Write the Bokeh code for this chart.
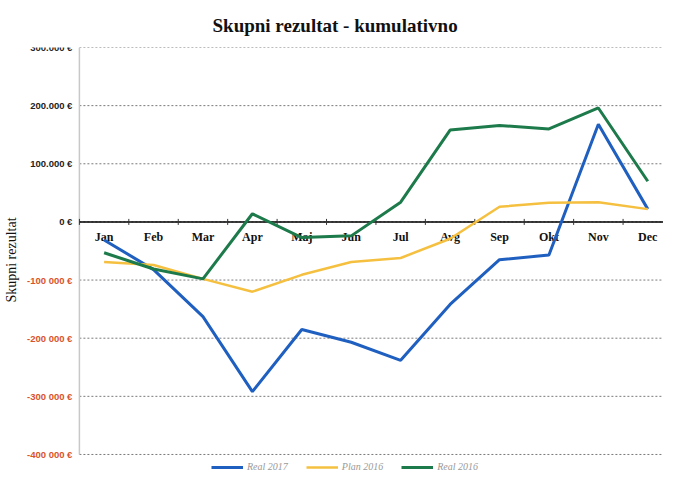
from bokeh.plotting import figure
from bokeh.models import ColumnDataSource, Range1d, Legend, LegendItem, FixedTicker
from bokeh.core.properties import value
from bokeh.embed import file_html
from bokeh.resources import INLINE

# ---- data (EUR) ----
months = ["Jan", "Feb", "Mar", "Apr", "Maj", "Jun", "Jul", "Avg", "Sep", "Okt", "Nov", "Dec"]
real_2017 = [-31000, -82000, -163000, -292000, -185000, -207000, -238000, -142000, -65000, -57000, 168000, 22000]
plan_2016 = [-69000, -74000, -98000, -120000, -91000, -69000, -62000, -29000, 26000, 33000, 34000, 22000]
real_2016 = [-53000, -81000, -98000, 14000, -27000, -24000, 34000, 158000, 166000, 160000, 196000, 70000]

y_ticks = [300000, 200000, 100000, 0, -100000, -200000, -300000, -400000]
y_tick_labels = ["300.000 €", "200.000 €", "100.000 €", "0 €",
                 "-100 000 €", "-200 000 €", "-300 000 €", "-400 000 €"]

series_names = ["Real 2017", "Plan 2016", "Real 2016"]
series_colors = ["#1f5fc0", "#f5c040", "#1d7a4a"]

# month positions on a numeric x scale (one unit per month)
xpos = list(range(len(months)))
x_axis_pos = xpos[0] - 0.5          # left edge of the first month = y-axis position
X_START, X_END = -1.631, 11.318     # visible x range (leaves room for tick labels on the left)

src = ColumnDataSource(dict(x=xpos, month=months, r17=real_2017, plan=plan_2016, r16=real_2016,
                            zero=[0] * len(months), bnd=[v - 0.5 for v in xpos]))

p = figure(x_range=Range1d(X_START, X_END), y_range=Range1d(-431000, 300000),
           width=663, height=472, output_backend="svg", toolbar_location=None,
           min_border_left=22, min_border_right=0, min_border_top=45, min_border_bottom=0)
p.outline_line_color = None
p.background_fill_color = "white"

# title
p.title.text = "Skupni rezultat - kumulativno"
p.title.text_font = "Liberation Serif"
p.title.text_font_size = "19px"
p.title.text_font_style = "bold"
p.title.text_color = "#111111"
p.title.align = "left"
p.title.offset = 189
p.title.standoff = 24

p.xaxis.visible = False
p.xgrid.visible = False
p.ygrid.visible = False

# y axis used only for its title
p.yaxis.ticker = FixedTicker(ticks=[])
p.yaxis.axis_line_color = None
p.yaxis.major_tick_line_color = None
p.yaxis.minor_tick_line_color = None
p.yaxis.axis_label = "Skupni rezultat"
p.yaxis.axis_label_text_font = "Liberation Serif"
p.yaxis.axis_label_text_font_size = "14px"
p.yaxis.axis_label_text_font_style = "normal"
p.yaxis.axis_label_text_color = "#111111"
p.yaxis.axis_label_standoff = 5

# grid lines (dashed) from the y-axis to the right edge
grid_src = ColumnDataSource(dict(x0=[x_axis_pos] * len(y_ticks), x1=[X_END] * len(y_ticks),
                                 y=y_ticks, t=y_tick_labels,
                                 c=["#222222" if v >= 0 else "#d9542b" for v in y_ticks]))
p.segment(x0="x0", y0="y", x1="x1", y1="y", source=grid_src,
          line_color="#7a7a7a", line_dash="2 2", line_width=1)

# y-axis line
p.segment(x0=[x_axis_pos], y0=[y_ticks[-1]], x1=[x_axis_pos], y1=[y_ticks[0]],
          line_color="#c8c8c8", line_width=1.5)

# y tick labels (positive dark, negative red)
p.text(x="x0", y="y", text="t", source=grid_src, x_offset=-7, text_color="c",
       text_font=value("Liberation Sans"), text_font_size="9.5px", text_font_style="bold",
       text_align="right", text_baseline="middle")

# zero line with ticks at month boundaries
p.segment(x0=[x_axis_pos], y0=[0], x1=[X_END], y1=[0], line_color="black", line_width=1.5)
p.scatter(x="bnd", y="zero", source=src, marker="dash", angle=1.5708, size=6,
          line_color="#333333", line_width=1)

p.text(x="x", y="zero", text="month", source=src, y_offset=8,
       text_font=value("Liberation Serif"), text_font_style="bold", text_font_size="12px",
       text_align="center", text_baseline="top", text_color="#111111")

r1 = p.line("x", "r17", source=src, line_color=series_colors[0], line_width=3)
r2 = p.line("x", "plan", source=src, line_color=series_colors[1], line_width=2.5)
r3 = p.line("x", "r16", source=src, line_color=series_colors[2], line_width=3)

legend = Legend(items=[LegendItem(label=series_names[0], renderers=[r1]),
                       LegendItem(label=series_names[1], renderers=[r2]),
                       LegendItem(label=series_names[2], renderers=[r3])],
                orientation="horizontal", location=(188, 0),
                label_text_font="Liberation Serif", label_text_font_style="italic",
                label_text_font_size="10px", label_text_color="#9a9a9a",
                glyph_width=32, glyph_height=10, label_height=10, label_standoff=4,
                spacing=18, padding=2, margin=0, border_line_color=None,
                background_fill_alpha=0)
p.add_layout(legend, "center")

open("out.html", "w").write(file_html(p, INLINE))
